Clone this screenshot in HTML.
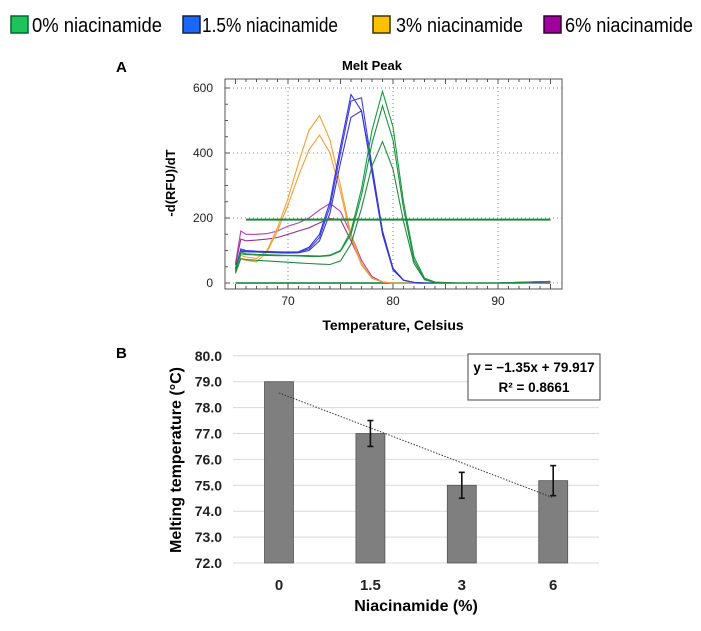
<!DOCTYPE html>
<html><head><meta charset="utf-8"><style>
body{margin:0;background:#fff;font-family:"Liberation Sans",sans-serif}
svg text{font-family:"Liberation Sans",sans-serif}
</style></head><body>
<svg id="s" width="701" height="626" xmlns="http://www.w3.org/2000/svg">
<g>
<g><rect x="11" y="16" width="17" height="17" fill="#1ec45a" stroke="#063" stroke-width="1.5"/><text x="32" y="32" font-size="20" textLength="130" lengthAdjust="spacingAndGlyphs">0% niacinamide</text></g>
<g><rect x="183" y="16" width="17" height="17" fill="#1a66ff" stroke="#124" stroke-width="1.5"/><text x="202" y="32" font-size="20" textLength="136" lengthAdjust="spacingAndGlyphs">1.5% niacinamide</text></g>
<g><rect x="373" y="16" width="17" height="17" fill="#ffc000" stroke="#430" stroke-width="1.5"/><text x="396" y="32" font-size="20" textLength="127" lengthAdjust="spacingAndGlyphs">3% niacinamide</text></g>
<g><rect x="544" y="16" width="17" height="17" fill="#a0009a" stroke="#303" stroke-width="1.5"/><text x="565" y="32" font-size="20" textLength="128" lengthAdjust="spacingAndGlyphs">6% niacinamide</text></g>
</g>
<text x="116" y="72" font-size="15" font-weight="bold">A</text>
<text x="116" y="358" font-size="15" font-weight="bold">B</text>
<text x="372" y="70" font-size="13" font-weight="bold" text-anchor="middle">Melt Peak</text>
<text x="393" y="330" font-size="14" font-weight="bold" text-anchor="middle">Temperature, Celsius</text>
<text transform="translate(175,183) rotate(-90)" font-size="13" font-weight="bold" text-anchor="middle">-d(RFU)/dT</text>
<g id="ga"></g>
<g id="gb"></g>
<text transform="translate(181,460) rotate(-90)" font-size="16" font-weight="bold" text-anchor="middle">Melting temperature (°C)</text>
<text x="416" y="611" font-size="16" font-weight="bold" text-anchor="middle">Niacinamide (%)</text>
<g>
<rect x="468" y="354" width="132" height="46" fill="#fff" stroke="#444"/>
<text x="534" y="372" font-size="13.5" font-weight="bold" text-anchor="middle">y = −1.35x + 79.917</text>
<text x="534" y="392" font-size="13.5" font-weight="bold" text-anchor="middle">R² = 0.8661</text>
</g>
</svg>
<script>
const temps=[65,65.5,66,67,68,69,70,71,72,73,74,75,76,77,78,79,80,81,82,83,84,86,90,95];
const green1=[40,95,90,88,87,86,85,85,84,83,86,100,160,290,470,590,480,250,80,15,3,0,0,5];
const green2=[35,90,88,86,85,84,84,83,82,82,84,98,150,270,430,545,440,230,70,12,2,0,0,5];
const green3=[30,75,72,70,68,66,64,62,60,58,57,68,120,230,360,435,350,190,60,10,2,0,0,5];
const blue1=[45,105,100,98,97,96,95,96,110,150,250,420,580,530,340,150,40,8,2,0,0,0,0,3];
const blue2=[45,100,98,96,95,94,94,95,105,140,235,400,560,570,360,160,45,9,2,0,0,0,0,3];
const blue3=[40,98,96,95,94,93,92,93,100,130,215,370,510,530,350,160,45,9,2,0,0,0,0,3];
const orange1=[40,85,80,75,100,170,260,370,470,515,440,300,150,60,15,3,0,0,0,0,0,0,0,2];
const orange2=[35,75,70,65,95,160,240,330,410,455,400,280,140,55,14,3,0,0,0,0,0,0,0,2];
const purple1=[60,160,150,150,152,160,175,185,200,225,245,220,150,70,20,3,0,0,0,0,0,0,0,2];
const purple2=[55,135,130,132,135,140,150,160,170,185,198,195,130,60,15,3,0,0,0,0,0,0,0,2];
const threshold=195;
const xTicks=[70,80,90];
const yTicks=[0,200,400,600];
const cats=["0","1.5","3","6"];
const tm=[79.0,77.0,75.0,75.18];
const err=[0,0.5,0.5,0.58];
const bTicks=[72,73,74,75,76,77,78,79,80];
const slope=-1.35, intercept=79.917;
const NS="http://www.w3.org/2000/svg";
function mk(p,t,a){const e=document.createElementNS(NS,t);for(const k in a)e.setAttribute(k,a[k]);p.appendChild(e);return e;}
const ga=document.getElementById('ga'), gb=document.getElementById('gb');
const xA=t=>288+(t-70)*10.5, yA=v=>283-v*0.325;
mk(ga,'rect',{x:225,y:79,width:337,height:210,fill:'#fff',stroke:'#555','stroke-width':1});
xTicks.forEach(t=>{const l=mk(ga,'line',{x1:xA(t),x2:xA(t),y1:79,y2:289,stroke:'#888','stroke-dasharray':'1,3'});


const tx=mk(ga,'text',{x:xA(t),y:305,'font-size':12,'text-anchor':'middle',fill:'#222'});tx.textContent=t;

});
for(let t=65;t<=95;t++){mk(ga,'line',{x1:xA(t),x2:xA(t),y1:289,y2:t%5?286:284,stroke:'#555'});mk(ga,'line',{x1:xA(t),x2:xA(t),y1:79,y2:t%5?82:84,stroke:'#555'});}
yTicks.forEach(v=>{const l=mk(ga,'line',{x1:225,x2:562,y1:yA(v),y2:yA(v),stroke:'#888','stroke-dasharray':'1,3'});


const tx=mk(ga,'text',{x:213,y:yA(v)+4,'font-size':12,'text-anchor':'end',fill:'#222'});tx.textContent=v;

});
for(let v=0;v<=600;v+=50)mk(ga,'line',{x1:225,x2:v%200?228:230,y1:yA(v),y2:yA(v),stroke:'#555'});
const baseLine=mk(ga,'line',{x1:xA(65),x2:xA(95),y1:yA(0),y2:yA(0),stroke:'#0a7a30','stroke-width':1.5});


const series=[[purple1,'#b040b0'],[purple2,'#a03090'],[orange1,'#f5a030'],[orange2,'#f0a040'],[blue1,'#3030e0'],[blue2,'#4040d8'],[blue3,'#3838cc'],[green1,'#1a9a40'],[green2,'#1a9040'],[green3,'#208a40']];
const names=['curve-6pct-1','curve-6pct-2','curve-3pct-1','curve-3pct-2','curve-1.5pct-1','curve-1.5pct-2','curve-1.5pct-3','curve-0pct-1','curve-0pct-2','curve-0pct-3'];
series.forEach(([vals,c],i)=>{const d=vals.map((v,j)=>(j?'L':'M')+xA(temps[j]).toFixed(1)+','+yA(v).toFixed(1)).join(' ');
const p=mk(ga,'path',{d:d,fill:'none',stroke:c,'stroke-width':1.1});

});
const th=mk(ga,'line',{x1:xA(66),x2:xA(95),y1:yA(threshold),y2:yA(threshold),stroke:'#1a8a3a','stroke-width':2});


const yB=v=>563-(v-72)*25.9, xB=i=>279+i*91.4;
bTicks.forEach(v=>{const l=mk(gb,'line',{x1:233,x2:599,y1:yB(v),y2:yB(v),stroke:'#d9d9d9'});


const tx=mk(gb,'text',{x:222,y:yB(v)+5,'font-size':14,'font-weight':'bold','text-anchor':'end',fill:'#222'});tx.textContent=v.toFixed(1);

});
cats.forEach((c,i)=>{const r=mk(gb,'rect',{x:xB(i)-14.5,y:yB(tm[i]),width:29,height:yB(72)-yB(tm[i]),fill:'#7f7f7f',stroke:'#555','stroke-width':0.8});


const tx=mk(gb,'text',{x:xB(i),y:590,'font-size':15,'font-weight':'bold','text-anchor':'middle',fill:'#222'});tx.textContent=c;

});
const tl=mk(gb,'line',{x1:xB(0),x2:xB(3),y1:yB(slope*1+intercept),y2:yB(slope*4+intercept),stroke:'#333','stroke-dasharray':'1.5,1.5'});


cats.forEach((c,i)=>{if(!err[i])return;const g=mk(gb,'g',{stroke:'#111','stroke-width':1.6});


const a=yB(tm[i]+err[i]),b=yB(tm[i]-err[i]);
mk(g,'line',{x1:xB(i),x2:xB(i),y1:a,y2:b});mk(g,'line',{x1:xB(i)-3,x2:xB(i)+3,y1:a,y2:a});mk(g,'line',{x1:xB(i)-3,x2:xB(i)+3,y1:b,y2:b});});
</script>
</body></html>
